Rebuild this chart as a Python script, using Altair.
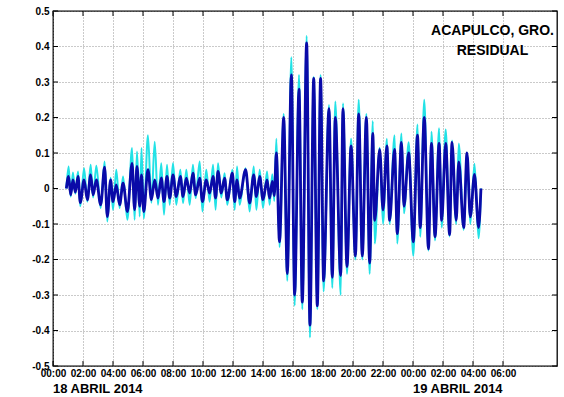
import altair as alt
import pandas as pd

# Hours since 18 April 2014 00:00, with the filtered (blue) and raw (cyan) residual in metres
hours = [
    0.89, 1.04, 1.18, 1.33, 1.49, 1.67, 1.82, 2.07, 2.29, 2.51, 2.67, 2.89, 3.18, 3.44,
    3.62, 3.84, 4.00, 4.22, 4.44, 4.67, 4.96, 5.27, 5.44, 5.60, 5.78, 5.90, 6.05, 6.33,
    6.56, 6.78, 7.00, 7.22, 7.40, 7.60, 7.78, 8.00, 8.22, 8.49, 8.67, 8.89, 9.11, 9.33,
    9.51, 9.78, 9.96, 10.22, 10.44, 10.67, 10.84, 11.00, 11.22, 11.44, 11.62, 11.96,
    12.11, 12.27, 12.44, 12.84, 13.11, 13.38, 13.56, 13.78, 14.00, 14.27, 14.44, 14.62,
    14.75, 14.89, 15.10, 15.38, 15.62, 15.89, 16.11, 16.40, 16.62, 16.91, 17.13, 17.38,
    17.62, 17.84, 18.04, 18.40, 18.62, 18.82, 19.18, 19.33, 19.60, 19.87, 20.16, 20.38,
    20.62, 20.89, 21.11, 21.32, 21.45, 21.78, 22.00, 22.26, 22.44, 22.77, 22.95, 23.23,
    23.40, 23.71, 24.02, 24.30, 24.48, 24.75, 25.03, 25.23, 25.47, 25.74, 25.91, 26.18,
    26.44, 26.60, 26.88, 27.05, 27.38, 27.60, 27.82, 28.10, 28.37, 28.53,
]
blue = [
    0.000, 0.034, -0.018, 0.024, -0.010, 0.034, -0.040, 0.024, -0.032, 0.038, -0.018,
    0.024, -0.046, 0.060, -0.079, 0.024, -0.037, 0.010, -0.046, 0.015, -0.065, 0.071,
    -0.060, 0.062, -0.050, 0.038, -0.065, 0.053, -0.032, 0.024, -0.027, 0.030, -0.037,
    0.034, -0.027, 0.038, -0.023, 0.034, -0.023, 0.029, -0.013, 0.043, -0.018, 0.029,
    -0.037, 0.024, -0.013, 0.034, -0.027, 0.048, -0.013, 0.029, -0.032, 0.043, -0.037,
    0.024, -0.027, 0.053, -0.041, 0.038, -0.023, 0.034, -0.032, 0.024, -0.027, 0.020,
    -0.020, 0.100, -0.150, 0.200, -0.240, 0.320, -0.300, 0.280, -0.320, 0.410, -0.385,
    0.310, -0.330, 0.310, -0.260, 0.225, -0.250, 0.200, -0.245, 0.225, -0.220, 0.120,
    -0.190, 0.210, -0.190, 0.200, -0.210, 0.155, -0.090, 0.110, -0.060, 0.120, -0.090,
    0.110, -0.127, 0.130, -0.050, 0.100, -0.150, 0.150, -0.110, 0.200, -0.170, 0.127,
    -0.136, 0.127, -0.090, 0.127, -0.130, 0.130, -0.090, 0.075, -0.110, 0.100, -0.080,
    0.040, -0.110, 0.000,
]
cyan = [
    0.000, 0.062, -0.023, 0.045, -0.015, 0.048, -0.050, 0.057, -0.037, 0.067, -0.025,
    0.064, -0.055, 0.076, -0.093, 0.030, -0.060, 0.053, -0.055, 0.034, -0.088, 0.114,
    -0.088, 0.104, -0.079, 0.114, -0.084, 0.150, -0.040, 0.132, -0.046, 0.071, -0.074,
    0.067, -0.046, 0.071, -0.046, 0.053, -0.041, 0.053, -0.046, 0.067, -0.027, 0.076,
    -0.065, 0.053, -0.037, 0.067, -0.060, 0.071, -0.025, 0.043, -0.046, 0.053, -0.060,
    0.062, -0.046, 0.057, -0.065, 0.062, -0.060, 0.053, -0.055, 0.048, -0.046, 0.040,
    -0.035, 0.140, -0.165, 0.210, -0.260, 0.370, -0.330, 0.320, -0.340, 0.430, -0.420,
    0.315, -0.340, 0.320, -0.290, 0.235, -0.280, 0.245, -0.300, 0.240, -0.240, 0.140,
    -0.200, 0.250, -0.200, 0.210, -0.240, 0.190, -0.155, 0.115, -0.100, 0.140, -0.100,
    0.150, -0.155, 0.155, -0.070, 0.130, -0.190, 0.180, -0.136, 0.250, -0.175, 0.160,
    -0.146, 0.170, -0.110, 0.166, -0.135, 0.135, -0.100, 0.127, -0.117, 0.100, -0.100,
    0.070, -0.140, 0.000,
]

x_ticks = [0, 2, 4, 6, 8, 10, 12, 14, 16, 18, 20, 22, 24, 26, 28, 30]
y_ticks = [-0.5, -0.4, -0.3, -0.2, -0.1, 0.0, 0.1, 0.2, 0.3, 0.4, 0.5]

day_starts = [0, 24]
day_names = ["18 ABRIL 2014", "19 ABRIL 2014"]
title_lines = ["ACAPULCO, GRO.", "RESIDUAL"]

X_MAX = 33.6
Y_MIN, Y_MAX = -0.5, 0.5
W, H = 504, 355
TICK_PX = 5
tx = TICK_PX * X_MAX / W
ty = TICK_PX * (Y_MAX - Y_MIN) / H

FONT = "Liberation Sans, Arial, sans-serif"
BLUE = "#0a0aa8"
CYAN = "#22e2e6"

xscale = alt.Scale(domain=[0, X_MAX], nice=False, zero=False)
yscale = alt.Scale(domain=[Y_MIN, Y_MAX], nice=False)

xaxis = alt.Axis(
    values=x_ticks,
    labelExpr="(datum.value % 24 < 10 ? '0' : '') + (datum.value % 24) + ':00'",
    labelPadding=2, labelFontSize=10,
)
yaxis = alt.Axis(
    values=y_ticks,
    labelExpr="toString(round(datum.value * 10) / 10)",
    labelPadding=4, labelFontSize=10,
)


def xenc(field):
    return alt.X(field, scale=xscale, axis=xaxis, title=None)


def yenc(field):
    return alt.Y(field, scale=yscale, axis=yaxis, title=None)


series = pd.DataFrame({"h": hours, "blue": blue, "cyan": cyan})

cyan_line = alt.Chart(series).mark_line(
    color=CYAN, strokeWidth=2, interpolate="monotone"
).encode(x=xenc("h:Q"), y=yenc("cyan:Q"))

blue_line = alt.Chart(series).mark_line(
    color=BLUE, strokeWidth=2.8, interpolate="monotone"
).encode(x=xenc("h:Q"), y=yenc("blue:Q"))

# Inward-pointing tick marks on all four sides of the frame
tick_rows = []
for v in x_ticks:
    tick_rows.append({"x": v, "x2": v, "y": Y_MIN, "y2": Y_MIN + ty})
    tick_rows.append({"x": v, "x2": v, "y": Y_MAX, "y2": Y_MAX - ty})
for v in y_ticks:
    tick_rows.append({"x": 0, "x2": tx, "y": v, "y2": v})
    tick_rows.append({"x": X_MAX, "x2": X_MAX - tx, "y": v, "y2": v})
ticks = alt.Chart(pd.DataFrame(tick_rows)).mark_rule(color="black", strokeWidth=1).encode(
    x=xenc("x:Q"), x2="x2:Q", y=yenc("y:Q"), y2="y2:Q",
)

titles = alt.Chart(pd.DataFrame({
    "x": [29.3, 29.3], "y": [0.444, 0.388], "t": title_lines,
})).mark_text(
    font=FONT, fontSize=14, fontWeight="bold", color="black", align="center", baseline="middle"
).encode(x=xenc("x:Q"), y=yenc("y:Q"), text="t:N")

dates = alt.Chart(pd.DataFrame({
    "x": day_starts, "y": [-0.564, -0.564], "t": day_names,
})).mark_text(
    font=FONT, fontSize=13, fontWeight="bold", color="black", align="left", baseline="middle"
).encode(x=xenc("x:Q"), y=yenc("y:Q"), text="t:N")

chart = alt.layer(cyan_line, blue_line, ticks, titles, dates).properties(
    width=W, height=H,
    padding={"left": 53, "top": 11, "right": 7, "bottom": 31},
    autosize=alt.AutoSizeParams(type="none"),
    background="white",
).configure_view(
    stroke="black", strokeWidth=1.3
).configure_axis(
    grid=True, gridColor="#7a7a7a", gridDash=[1, 2], gridWidth=0.8,
    ticks=False, domain=False,
    labelFont=FONT, labelFontWeight="bold", labelColor="black",
    labelFlush=False, labelOverlap=False, labelBound=False,
)

chart.save("out.html", embed_options={"renderer": "svg", "actions": False})
